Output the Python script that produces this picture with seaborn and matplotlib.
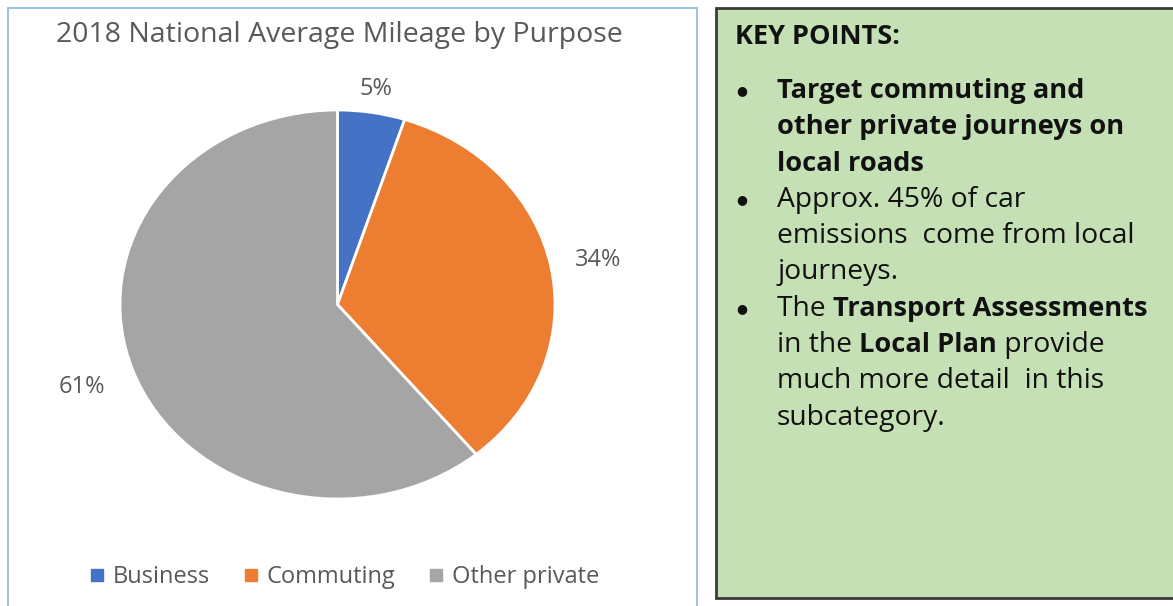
import matplotlib
matplotlib.use("Agg")
import numpy as np
import matplotlib.pyplot as plt
from matplotlib.patches import Rectangle
from matplotlib.lines import Line2D
import seaborn as sns

# Mileage share by journey purpose (percent)
purposes = ["Business", "Commuting", "Other private"]
shares = [5, 34, 61]
colors = ["#4472C4", "#ED7D31", "#A5A5A5"]
# Radial distance of each percentage label (in pie radii)
label_dist = [1.12, 1.22, 1.25]

title = "2018 National Average Mileage by Purpose"
key_heading = "KEY POINTS:"
# Each bullet is a list of lines; each line is a list of (text, bold) runs
bullets = [
    [[("Target commuting and", True)],
     [("other private journeys on", True)],
     [("local roads", True)]],
    [[("Approx. 45% of car", False)],
     [("emissions  come from local", False)],
     [("journeys.", False)]],
    [[("The ", False), ("Transport Assessments", True)],
     [("in the ", False), ("Local Plan", True), (" provide", False)],
     [("much more detail  in this", False)],
     [("subcategory.", False)]],
]

sns.set_theme(style="white")
plt.rcParams["font.family"] = ["Open Sans", "DejaVu Sans"]
palette = sns.color_palette(colors)

W, H = 1173, 606
fig = plt.figure(figsize=(W / 100, H / 100), dpi=100)
fig.patch.set_facecolor("white")


def fx(px):
    return px / W


def fy(py):
    return 1 - py / H


# Chart panel frame
fig.patches.append(Rectangle((fx(8), fy(640)), fx(697) - fx(8), fy(8) - fy(640),
                             transform=fig.transFigure, fill=False,
                             edgecolor="#9DC3E6", linewidth=1.5, zorder=0))

# Pie axes
ax = fig.add_axes([fx(120), fy(499), fx(555) - fx(120), fy(110) - fy(499)])
wedges, texts, autotexts = ax.pie(
    shares, colors=palette, startangle=90, counterclock=False,
    autopct="%d%%", pctdistance=1.2,
    wedgeprops=dict(edgecolor="white", linewidth=2),
    textprops=dict(color="#595959", fontsize=17),
)
# Push each percentage label out along its wedge's bisector
for w, t, d in zip(wedges, autotexts, label_dist):
    ang = np.deg2rad((w.theta1 + w.theta2) / 2)
    t.set_position((d * np.cos(ang), d * np.sin(ang)))
ax.set_aspect("auto")
ax.set_xlim(-1, 1)
ax.set_ylim(-1, 1)
ax.axis("off")

fig.text(fx(339), fy(35), title, ha="center", va="center",
         fontsize=20.5, color="#595959")

handles = [Line2D([], [], marker="s", linestyle="", markersize=9,
                  markerfacecolor=c, markeredgecolor=c) for c in palette]
fig.legend(handles, purposes, loc="center", bbox_to_anchor=(fx(344), fy(577)),
           ncol=3, frameon=False, fontsize=17, handlelength=0.7,
           handletextpad=0.3, columnspacing=1.4, labelcolor="#595959")

# Key points box
fig.patches.append(Rectangle((fx(716), fy(598)), fx(1190) - fx(716), fy(8) - fy(598),
                             transform=fig.transFigure, facecolor="#C5E0B4",
                             edgecolor="#3A3A3A", linewidth=2, zorder=0))

fig.text(fx(735), fy(37), key_heading, ha="left", va="center",
         fontsize=19.5, fontweight="bold", color="#111111")

renderer = fig.canvas.get_renderer()
line_y = 91
step = 36.3
for bullet in bullets:
    fig.text(fx(742), fy(line_y), "\u25CF", ha="center", va="center",
             fontsize=9, color="#111111", family="DejaVu Sans")
    for runs in bullet:
        x = 777
        for txt, bold in runs:
            t = fig.text(fx(x), fy(line_y), txt, ha="left", va="center",
                         fontsize=19.6 if bold else 20.3,
                         fontweight="bold" if bold else "normal",
                         color="#111111")
            x += t.get_window_extent(renderer).width
        line_y += step

fig.savefig("out.png", dpi=100, facecolor="white")
